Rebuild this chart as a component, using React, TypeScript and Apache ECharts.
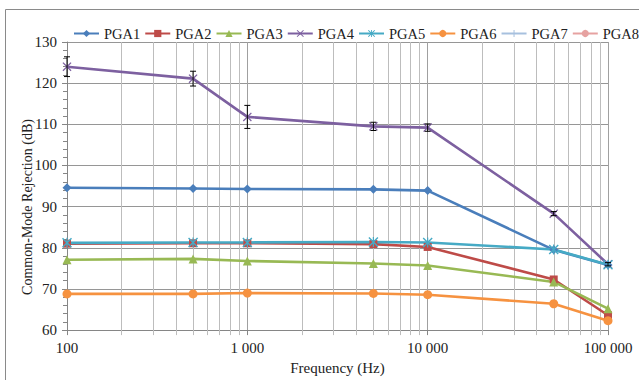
import React, { useEffect, useRef } from "react";
import * as echarts from "echarts";

const freqs = [100, 500, 1000, 5000, 10000, 50000, 100000];
const pga1 = [94.6, 94.4, 94.3, 94.2, 93.9, 79.5, 75.8];
const pga2 = [81.0, 81.1, 81.1, 80.9, 80.2, 72.3, 63.6];
const pga3 = [77.1, 77.3, 76.8, 76.2, 75.7, 71.7, 65.2];
const pga4 = [124.0, 121.1, 111.8, 109.5, 109.2, 88.3, 76.0];
const pga4Err = [2.4, 1.8, 2.8, 1.0, 0.9, 0.5, 0.4];
const pga5 = [81.2, 81.3, 81.3, 81.4, 81.3, 79.6, 75.9];
const pga6 = [68.8, 68.8, 69.0, 68.9, 68.6, 66.4, 62.3];
const pga7: number[] = [];
const pga8: number[] = [];
const minorFreqs = [
  200, 300, 400, 500, 600, 700, 800, 900,
  2000, 3000, 4000, 5000, 6000, 7000, 8000, 9000,
  20000, 30000, 40000, 50000, 60000, 70000, 80000, 90000,
];

const FONT = "Liberation Serif";

const X_PATH = "path://M1,0L5,4L9,0L10,1L6,5L10,9L9,10L5,6L1,10L0,9L4,5L0,1Z";
const STAR_PATH =
  "path://M1,0L5,4L9,0L10,1L6,5L10,9L9,10L5,6L1,10L0,9L4,5L0,1Z M4.4,0L5.6,0L5.6,10L4.4,10Z";
const PLUS_PATH = "path://M4.3,0H5.7V4.3H10V5.7H5.7V10H4.3V5.7H0V4.3H4.3Z";

function pairs(vals: number[]) {
  return vals.map((v, i) => [freqs[i], v]);
}

function fmt(v: number) {
  const r = Math.round(v);
  return String(r).replace(/\B(?=(\d{3})+(?!\d))/g, " ");
}

export default function App() {
  const ref = useRef<HTMLDivElement>(null);
  useEffect(() => {
    if (!ref.current) return;
    const chart = echarts.init(ref.current, null, { renderer: "svg" });
    const lineSeries = (
      name: string,
      vals: number[],
      color: string,
      symbol: string,
      symbolSize: number
    ) => ({
      name,
      type: "line",
      data: pairs(vals),
      symbol,
      symbolSize,
      showSymbol: symbol !== "none",
      lineStyle: { color, width: 2.6 },
      itemStyle: { color },
      z: 3,
    });
    const option: any = {
      animation: false,
      backgroundColor: "#ffffff",
      textStyle: { fontFamily: FONT },
      graphic: [
        {
          type: "rect",
          shape: { x: 5.5, y: 9.5, width: 800, height: 500 },
          style: { fill: "none", stroke: "#8a8a8a", lineWidth: 1 },
          silent: true,
          z: -10,
        },
        {
          type: "text",
          x: 27,
          y: 207,
          rotation: Math.PI / 2,
          style: {
            text: "Common-Mode Rejection (dB)",
            font: `14px "${FONT}"`,
            fill: "#222",
            align: "center",
            verticalAlign: "middle",
          },
        },
      ],
      legend: {
        left: 68,
        top: 21,
        width: 1200,
        orient: "horizontal",
        itemWidth: 25,
        itemHeight: 9,
        itemGap: 4,
        textStyle: { fontFamily: FONT, fontSize: 14.5, color: "#222" },
        data: ["PGA1", "PGA2", "PGA3", "PGA4", "PGA5", "PGA6", "PGA7", "PGA8"],
      },
      grid: { left: 67, right: 31, top: 42, bottom: 43, containLabel: false },
      xAxis: {
        type: "log",
        logBase: 10,
        min: 100,
        max: 100000,
        name: "Frequency (Hz)",
        nameLocation: "middle",
        nameGap: 25,
        nameTextStyle: { fontFamily: FONT, fontSize: 15, color: "#222" },
        axisLine: { show: true, lineStyle: { color: "#868686" } },
        axisTick: { show: true, length: 5, lineStyle: { color: "#868686" } },
        axisLabel: {
          fontFamily: FONT,
          fontSize: 15,
          color: "#222",
          margin: 10,
          formatter: (v: number) => fmt(v),
        },
        splitLine: { show: true, lineStyle: { color: "#a0a0a0", width: 1 } },
      },
      yAxis: {
        type: "value",
        min: 60,
        max: 130,
        interval: 10,
        axisLine: { show: true, lineStyle: { color: "#868686" } },
        axisTick: { show: true, length: 5, lineStyle: { color: "#868686" } },
        minorTick: { show: true, splitNumber: 5, length: 4, lineStyle: { color: "#868686" } },
        axisLabel: { fontFamily: FONT, fontSize: 15, color: "#222", margin: 10 },
        splitLine: { show: true, lineStyle: { color: "#969696", width: 1 } },
      },
      series: [
        {
          name: "minorGrid",
          type: "custom",
          silent: true,
          clip: false,
          z: 1,
          data: minorFreqs.map((f) => [f]),
          renderItem: (params: any, api: any) => {
            const f = api.value(0);
            const top = api.coord([f, 130]);
            const bot = api.coord([f, 60]);
            const x = Math.round(top[0]) + 0.5;
            return {
              type: "line",
              shape: { x1: x, y1: top[1], x2: x, y2: bot[1] + 5 },
              style: { stroke: "#bdbdbd", lineWidth: 1 },
            };
          },
        },
        lineSeries("PGA1", pga1, "#4a7ebb", "diamond", 9),
        lineSeries("PGA2", pga2, "#be4b48", "rect", 8),
        lineSeries("PGA3", pga3, "#98b954", "triangle", 9),
        lineSeries("PGA4", pga4, "#7d60a0", X_PATH, 9),
        lineSeries("PGA5", pga5, "#46aac5", STAR_PATH, 10),
        lineSeries("PGA6", pga6, "#f69240", "circle", 9),
        lineSeries("PGA7", pga7, "#a7c0de", PLUS_PATH, 10),
        lineSeries("PGA8", pga8, "#e6a2a1", "none", 0),
        {
          name: "PGA4err",
          type: "custom",
          silent: true,
          z: 5,
          data: pga4.map((v, i) => [freqs[i], v - pga4Err[i], v + pga4Err[i]]),
          renderItem: (params: any, api: any) => {
            const x = api.value(0);
            const lo = api.coord([x, api.value(1)]);
            const hi = api.coord([x, api.value(2)]);
            const st = { stroke: "#000", lineWidth: 1 };
            return {
              type: "group",
              children: [
                { type: "line", shape: { x1: lo[0], y1: lo[1], x2: hi[0], y2: hi[1] }, style: st },
                { type: "line", shape: { x1: lo[0] - 3, y1: lo[1], x2: lo[0] + 3, y2: lo[1] }, style: st },
                { type: "line", shape: { x1: hi[0] - 3, y1: hi[1], x2: hi[0] + 3, y2: hi[1] }, style: st },
              ],
            };
          },
        },
      ],
    };
    chart.setOption(option);
    return () => chart.dispose();
  }, []);
  return (
    <div
      ref={ref}
      style={{ position: "fixed", left: 0, top: 0, width: 639, height: 380 }}
    />
  );
}
